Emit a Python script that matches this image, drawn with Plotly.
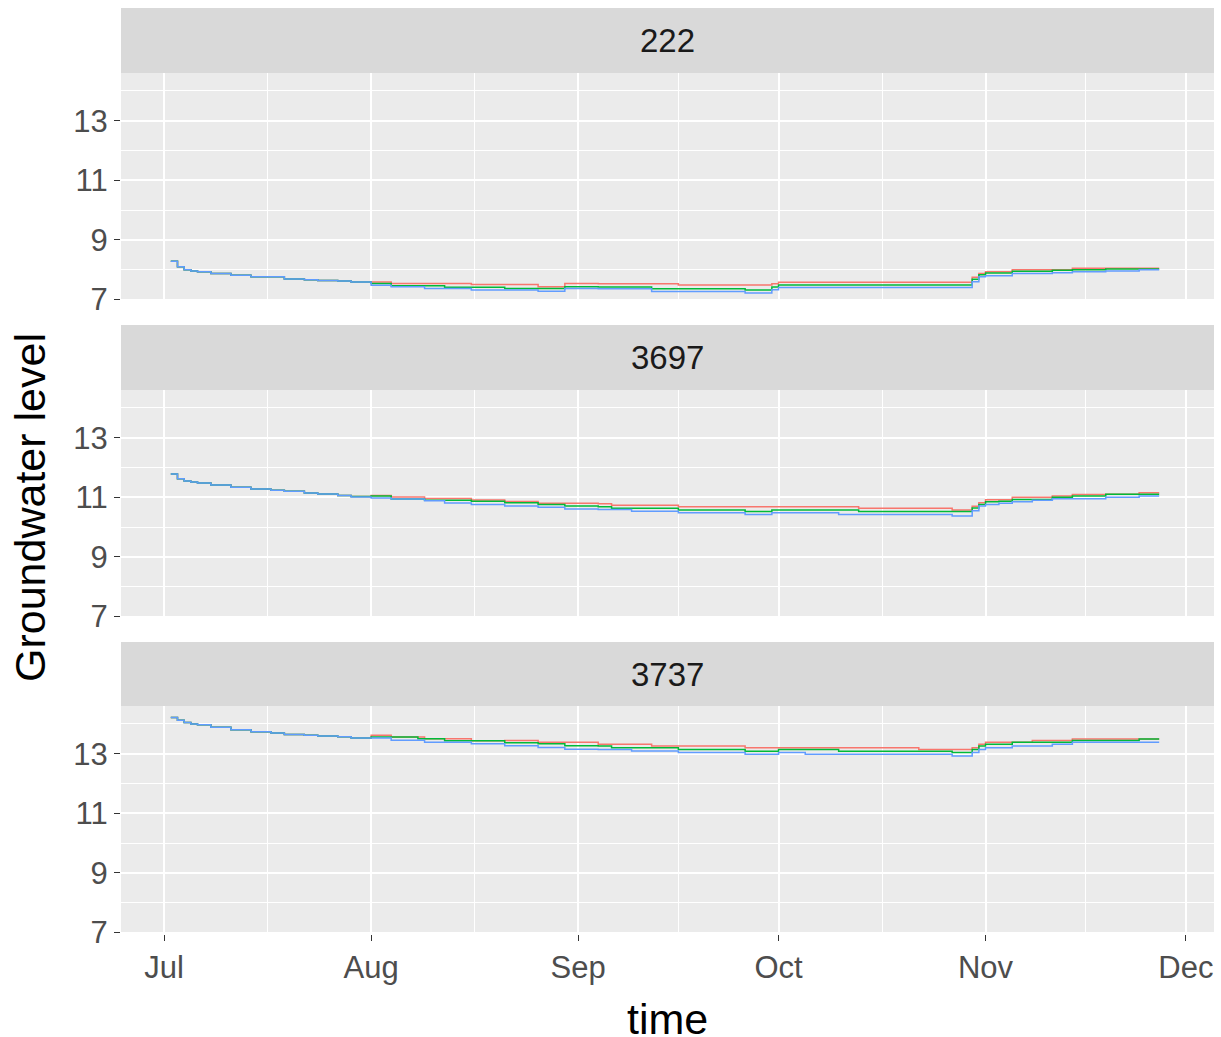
import plotly.graph_objects as go
from plotly.subplots import make_subplots

# dates where the step lines change value
dates = ["2017-07-02", "2017-07-03", "2017-07-04", "2017-07-05", "2017-07-06", "2017-07-08",
         "2017-07-11", "2017-07-14", "2017-07-17", "2017-07-19", "2017-07-22", "2017-07-24",
         "2017-07-27", "2017-07-29", "2017-08-01", "2017-08-04", "2017-08-08", "2017-08-09",
         "2017-08-12", "2017-08-16", "2017-08-21", "2017-08-26", "2017-08-30", "2017-09-04",
         "2017-09-06", "2017-09-09", "2017-09-12", "2017-09-16", "2017-09-26", "2017-09-30",
         "2017-10-01", "2017-10-05", "2017-10-10", "2017-10-13", "2017-10-22", "2017-10-27",
         "2017-10-30", "2017-10-31", "2017-11-01", "2017-11-03", "2017-11-05", "2017-11-08",
         "2017-11-11", "2017-11-14", "2017-11-19", "2017-11-24", "2017-11-27"]

wells = ["222", "3697", "3737"]

# well 222
w222_red = [8.28, 8.10, 8.00, 7.96, 7.93, 7.87, 7.81, 7.76, 7.76, 7.69, 7.66, 7.64, 7.62, 7.59,
            7.59, 7.54, 7.54, 7.54, 7.54, 7.50, 7.50, 7.43, 7.54, 7.53, 7.53, 7.53,
            7.53, 7.49, 7.49, 7.53, 7.58, 7.58, 7.58, 7.58, 7.58, 7.58, 7.75, 7.87,
            7.93, 7.93, 8.00, 8.00, 8.00, 8.05, 8.05, 8.05, 8.05]
w222_green = [8.28, 8.10, 8.00, 7.96, 7.93, 7.87, 7.81, 7.76, 7.76, 7.69, 7.66, 7.64, 7.62, 7.59,
              7.54, 7.46, 7.46, 7.46, 7.41, 7.41, 7.37, 7.37, 7.43, 7.42, 7.42, 7.42,
              7.36, 7.36, 7.32, 7.42, 7.49, 7.49, 7.49, 7.49, 7.49, 7.49, 7.68, 7.83,
              7.89, 7.89, 7.95, 7.95, 7.98, 8.00, 8.02, 8.02, 8.02]
w222_blue = [8.28, 8.10, 8.00, 7.96, 7.93, 7.87, 7.81, 7.76, 7.76, 7.69, 7.66, 7.64, 7.62, 7.59,
             7.48, 7.43, 7.43, 7.37, 7.37, 7.32, 7.32, 7.28, 7.37, 7.36, 7.36, 7.36,
             7.27, 7.27, 7.22, 7.33, 7.40, 7.40, 7.40, 7.40, 7.40, 7.40, 7.60, 7.76,
             7.80, 7.80, 7.87, 7.87, 7.90, 7.93, 7.96, 8.00, 8.00]

# well 3697
w3697_red = [11.78, 11.62, 11.55, 11.51, 11.48, 11.41, 11.34, 11.28, 11.24, 11.20, 11.14, 11.11, 11.06, 11.03,
             11.06, 11.01, 11.01, 10.96, 10.96, 10.91, 10.86, 10.80, 10.80, 10.78, 10.73, 10.73,
             10.73, 10.68, 10.68, 10.68, 10.68, 10.68, 10.68, 10.63, 10.63, 10.57, 10.70, 10.82,
             10.92, 10.92, 11.00, 11.00, 11.04, 11.09, 11.10, 11.15, 11.15]
w3697_green = [11.78, 11.62, 11.55, 11.51, 11.48, 11.41, 11.34, 11.28, 11.24, 11.20, 11.14, 11.11, 11.06, 11.03,
               11.04, 10.94, 10.94, 10.90, 10.90, 10.87, 10.82, 10.76, 10.71, 10.68, 10.63, 10.63,
               10.63, 10.57, 10.52, 10.57, 10.57, 10.57, 10.57, 10.52, 10.52, 10.52, 10.64, 10.76,
               10.85, 10.87, 10.93, 10.93, 11.00, 11.04, 11.10, 11.10, 11.10]
w3697_blue = [11.78, 11.62, 11.55, 11.51, 11.48, 11.41, 11.34, 11.28, 11.24, 11.20, 11.14, 11.11, 11.06, 11.01,
              10.98, 10.94, 10.94, 10.88, 10.81, 10.76, 10.71, 10.67, 10.61, 10.59, 10.59, 10.53,
              10.53, 10.48, 10.42, 10.48, 10.48, 10.48, 10.42, 10.42, 10.42, 10.37, 10.55, 10.71,
              10.76, 10.80, 10.85, 10.90, 10.95, 10.95, 11.00, 11.04, 11.04]

# well 3737
w3737_red = [14.21, 14.12, 14.05, 14.00, 13.97, 13.89, 13.80, 13.74, 13.69, 13.64, 13.62, 13.59, 13.57, 13.53,
             13.62, 13.56, 13.56, 13.50, 13.50, 13.43, 13.44, 13.38, 13.38, 13.32, 13.32, 13.32,
             13.26, 13.26, 13.20, 13.20, 13.20, 13.20, 13.20, 13.20, 13.14, 13.14, 13.20, 13.32,
             13.38, 13.38, 13.38, 13.44, 13.44, 13.49, 13.49, 13.49, 13.49]
w3737_green = [14.21, 14.12, 14.05, 14.00, 13.97, 13.89, 13.80, 13.74, 13.69, 13.64, 13.62, 13.59, 13.57, 13.53,
               13.56, 13.56, 13.50, 13.50, 13.43, 13.43, 13.37, 13.33, 13.27, 13.26, 13.20, 13.20,
               13.20, 13.14, 13.08, 13.08, 13.14, 13.14, 13.08, 13.08, 13.08, 13.04, 13.14, 13.26,
               13.32, 13.32, 13.38, 13.38, 13.38, 13.44, 13.44, 13.49, 13.49]
w3737_blue = [14.21, 14.12, 14.05, 14.00, 13.97, 13.89, 13.80, 13.74, 13.69, 13.64, 13.62, 13.59, 13.57, 13.53,
              13.53, 13.45, 13.45, 13.38, 13.38, 13.33, 13.27, 13.21, 13.15, 13.14, 13.14, 13.09,
              13.09, 13.04, 12.98, 12.98, 13.04, 12.98, 12.98, 12.98, 12.98, 12.92, 13.04, 13.14,
              13.20, 13.20, 13.26, 13.26, 13.32, 13.38, 13.38, 13.38, 13.38]

panels = [
    [w222_red, w222_green, w222_blue],
    [w3697_red, w3697_green, w3697_blue],
    [w3737_red, w3737_green, w3737_blue],
]
colors = ["#F8766D", "#00BA38", "#619CFF"]

W, H = 1221, 1037      # reference picture size, all pixel positions below are in it
PAGE_H = 1053          # figure height that ends up as H in the screenshot
# pixel positions of the panels (top, bottom) and strips
panel_px = [(73, 301), (390, 618), (706, 934)]
strip_px = [(8, 73), (325, 390), (642, 706)]
x0_px, x1_px = 121, 1214

font = "Liberation Sans, Arial, sans-serif"

fig = make_subplots(rows=3, cols=1)

for i, series in enumerate(panels):
    for vals, c in zip(series, colors):
        fig.add_trace(go.Scatter(x=dates, y=vals, mode="lines", line=dict(color=c, width=1.5, shape="hv"),
                                 showlegend=False, hoverinfo="skip"), row=i + 1, col=1)

month_ticks = ["2017-07-01", "2017-08-01", "2017-09-01", "2017-10-01", "2017-11-01", "2017-12-01"]
month_minor = ["2017-07-16 12:00", "2017-08-16 12:00", "2017-09-16", "2017-10-16 12:00", "2017-11-16"]

for i in range(3):
    top, bot = panel_px[i]
    xa = dict(domain=[x0_px / W, x1_px / W], range=["2017-06-24 13:00", "2017-12-05 05:00"],
              tickvals=month_ticks, tickformat="%b", showgrid=True, gridcolor="white", gridwidth=2,
              minor=dict(tickvals=month_minor, showgrid=True, gridcolor="white", gridwidth=1, ticks=""),
              zeroline=False, showline=False)
    if i == 2:
        xa.update(ticks="outside", ticklen=6, tickcolor="#333333", tickwidth=1.2,
                  tickfont=dict(family=font, size=31, color="#4D4D4D"), showticklabels=True)
    else:
        xa.update(ticks="", showticklabels=False)
    fig.update_xaxes(xa, row=i + 1, col=1)
    fig.update_yaxes(domain=[1 - bot / H, 1 - top / H], range=[6.95, 14.6],
                     tickvals=[7, 9, 11, 13], ticks="outside", ticklen=6, tickcolor="#333333", tickwidth=1.2,
                     tickfont=dict(family=font, size=31, color="#4D4D4D"),
                     showgrid=True, gridcolor="white", gridwidth=2,
                     minor=dict(tickvals=[8, 10, 12, 14], showgrid=True, gridcolor="white", gridwidth=1, ticks=""),
                     zeroline=False, showline=False, row=i + 1, col=1)

shapes = []
annotations = []
for i in range(3):
    top, bot = panel_px[i]
    shapes.append(dict(type="rect", xref="paper", yref="paper", x0=x0_px / W, x1=x1_px / W,
                       y0=1 - bot / H, y1=1 - top / H, fillcolor="#EBEBEB", line=dict(width=0), layer="below"))
    st, sb = strip_px[i]
    shapes.append(dict(type="rect", xref="paper", yref="paper", x0=x0_px / W, x1=x1_px / W,
                       y0=1 - sb / H, y1=1 - st / H, fillcolor="#D9D9D9", line=dict(width=0)))
    annotations.append(dict(text=wells[i], xref="paper", yref="paper", x=(x0_px + x1_px) / 2 / W,
                            y=1 - (st + sb) / 2 / H, showarrow=False, xanchor="center", yanchor="middle",
                            font=dict(family=font, size=33, color="#1A1A1A")))

annotations.append(dict(text="time", xref="paper", yref="paper", x=(x0_px + x1_px) / 2 / W, y=1 - 1019 / H,
                        showarrow=False, xanchor="center", yanchor="middle",
                        font=dict(family=font, size=43, color="black")))
annotations.append(dict(text="Groundwater level", xref="paper", yref="paper", x=30 / W, y=1 - 508 / H,
                        showarrow=False, xanchor="center", yanchor="middle", textangle=-90,
                        font=dict(family=font, size=43, color="black")))

fig.update_layout(width=W, height=PAGE_H, margin=dict(l=0, r=0, t=0, b=0),
                  paper_bgcolor="white", plot_bgcolor="rgba(0,0,0,0)",
                  shapes=shapes, annotations=annotations, showlegend=False)

page_css = ("document.documentElement.style.overflow='hidden';"
            "document.body.style.overflow='hidden';"
            "document.body.style.margin='0px';")
fig.write_html("out.html", config={"displayModeBar": False, "responsive": False}, post_script=page_css)
